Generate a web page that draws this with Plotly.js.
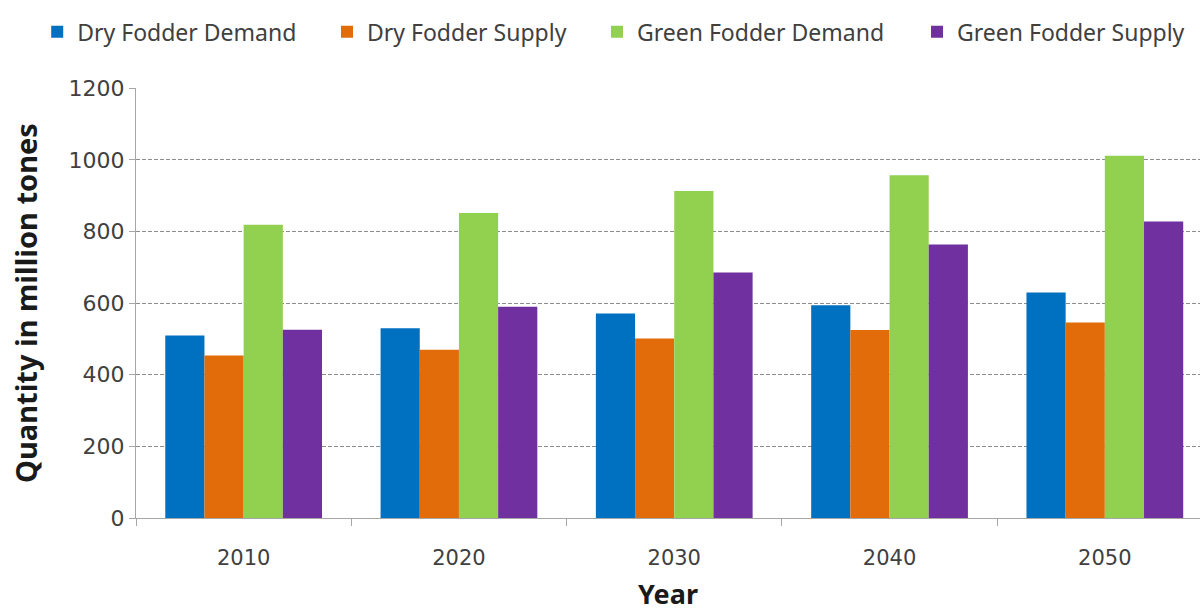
<!DOCTYPE html>
<html>
<head>
<meta charset="utf-8">
<script src="https://cdn.plot.ly/plotly-3.0.1.min.js"></script>
<style>html,body{margin:0;padding:0;background:#fff;}#chart{width:1200px;height:612px;}</style>
</head>
<body>
<div id="chart"></div>
<script>
const years = ["2010", "2020", "2030", "2040", "2050"];
const dryDemand = [510, 530, 571, 594, 630];
const drySupply = [454, 470, 501, 525, 546];
const greenDemand = [819, 852, 913, 957, 1012];
const greenSupply = [526, 590, 686, 764, 828];
const seriesNames = ["Dry Fodder Demand", "Dry Fodder Supply", "Green Fodder Demand", "Green Fodder Supply"];
const seriesColors = ["#0070C0", "#E36C0A", "#92D050", "#7030A0"];
const seriesValues = [dryDemand, drySupply, greenDemand, greenSupply];
const yTicks = [0, 200, 400, 600, 800, 1000, 1200];

const FONT = "Noto Sans";
const TICKFONT = "DejaVu Sans";
const legendIds = ["legend", "legend2", "legend3", "legend4"];
const legendX = [0.031, 0.2725, 0.4975, 0.7642];

const traces = seriesValues.map((vals, i) => ({
  type: "bar",
  name: seriesNames[i],
  x: years,
  y: vals,
  legend: legendIds[i],
  marker: {color: seriesColors[i], line: {width: 0}},
  hoverinfo: "x+y+name"
}));

function legendCfg(x) {
  return {
    orientation: "h",
    xref: "container",
    yref: "container",
    x: x,
    xanchor: "left",
    y: 0.948,
    yanchor: "middle",
    font: {family: FONT, size: 23, color: "#404040"},
    bgcolor: "rgba(0,0,0,0)"
  };
}

const layout = {
  width: 1200,
  height: 612,
  margin: {l: 136, r: 0, t: 88, b: 94, autoexpand: false},
  paper_bgcolor: "#ffffff",
  plot_bgcolor: "#ffffff",
  font: {family: FONT, size: 21, color: "#404040"},
  barmode: "group",
  bargap: 0.272,
  bargroupgap: 0,
  showlegend: true,
  xaxis: {
    type: "category",
    range: [-0.5, 4.442],
    showline: true,
    linecolor: "#a6a6a6",
    linewidth: 1,
    ticks: "outside",
    tickson: "boundaries",
    ticklen: 7,
    tickcolor: "#a6a6a6",
    showgrid: false,
    zeroline: false,
    tickfont: {family: TICKFONT, size: 21, color: "#404040"},
    ticklabelstandoff: 21,
    title: {text: "Year", font: {family: FONT, size: 27, color: "#1a1a1a", weight: "bold"}, standoff: 26}
  },
  yaxis: {
    range: [0, 1201],
    tickvals: yTicks,
    showline: true,
    linecolor: "#a6a6a6",
    linewidth: 1,
    ticks: "outside",
    ticklen: 6,
    tickcolor: "#a6a6a6",
    showgrid: true,
    gridcolor: "#8c8c8c",
    griddash: "4px,2px",
    gridwidth: 1,
    zeroline: false,
    tickfont: {family: TICKFONT, size: 22, color: "#404040"},
    title: {text: "Quantity in million tones", font: {family: FONT, size: 29, color: "#1a1a1a", weight: "bold"}, standoff: 22}
  }
};
legendIds.forEach((id, i) => { layout[id] = legendCfg(legendX[i]); });

Plotly.newPlot("chart", traces, layout, {displayModeBar: false, staticPlot: true});
</script>
</body>
</html>
